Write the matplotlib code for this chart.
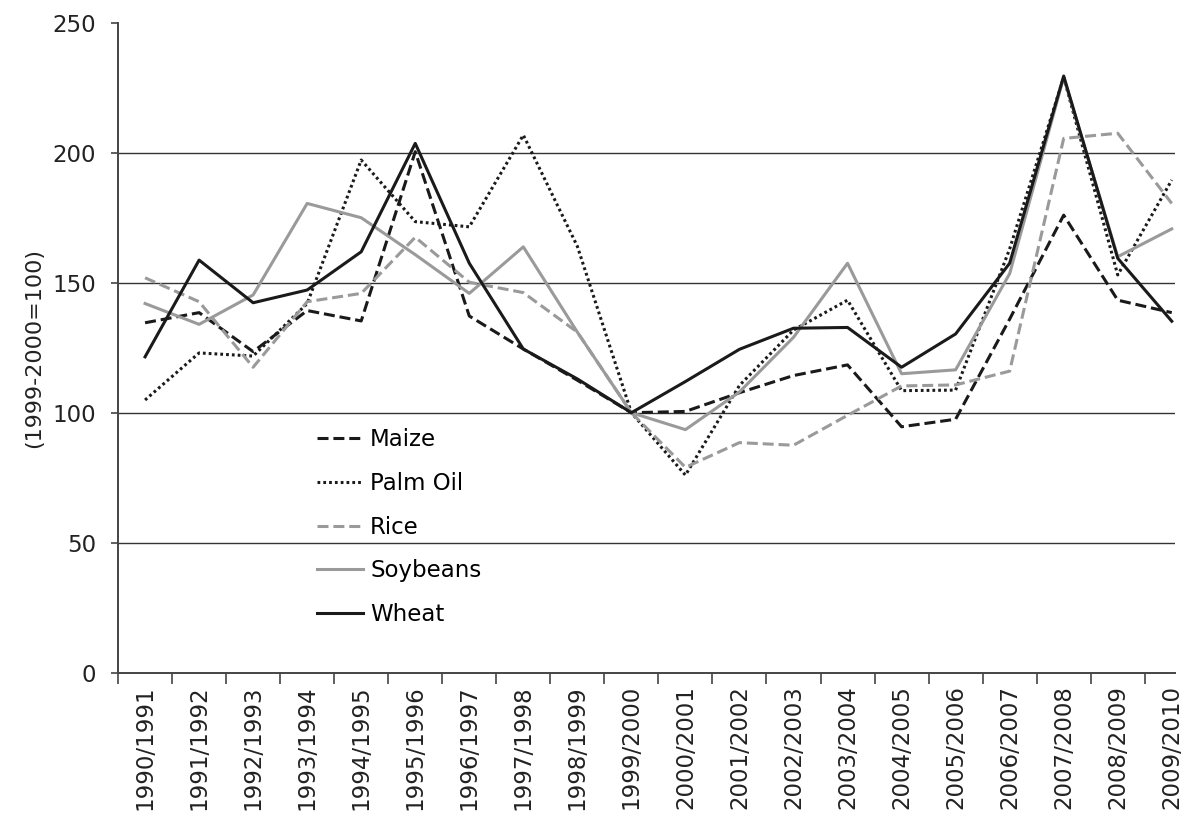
import numpy as np
import matplotlib
matplotlib.use("Agg")
import matplotlib.pyplot as plt

seasons = ["1990/1991", "1991/1992", "1992/1993", "1993/1994", "1994/1995",
           "1995/1996", "1996/1997", "1997/1998", "1998/1999", "1999/2000",
           "2000/2001", "2001/2002", "2002/2003", "2003/2004", "2004/2005",
           "2005/2006", "2006/2007", "2007/2008", "2008/2009", "2009/2010"]

maize = [134.6, 138.5, 123.5, 139.3, 135.3, 200.4, 137.2, 124.5, 112.5, 100,
         100.5, 107.7, 114.3, 118.4, 94.6, 97.5, 136, 176, 143.3, 138.5]
palm_oil = [104.9, 123, 121.8, 142, 197.2, 173.5, 171.5, 206.8, 164, 100,
            76, 110.5, 131.8, 143.3, 108.5, 108.7, 163, 229, 153, 189.5]
rice = [151.9, 142.7, 117.5, 142.7, 145.9, 167.5, 150.2, 146.2, 131, 100,
        79, 88.5, 87.5, 99, 110.3, 110.7, 116, 205.5, 207.5, 180.5]
soybeans = [142, 134, 145.3, 180.5, 175, 160.8, 145.9, 163.8, 131, 100,
            93.5, 108, 129, 157.5, 115, 116.5, 153.5, 229, 160, 170.7]
wheat = [121.5, 158.7, 142.3, 147.2, 161.9, 203.6, 157.5, 124.5, 113, 100,
         112, 124.4, 132.5, 132.8, 117.5, 130.3, 157.5, 229.5, 159.4, 135.2]

plt.rcParams['font.family'] = ['DejaVu Sans']
FS = 16.5
BLACK = "#1a1a1a"
GRAY = "#9a9a9a"

fig = plt.figure(figsize=(11.84, 8.18), dpi=100)
ax = fig.add_axes([0.0997, 0.1776, 0.8927, 0.7946])

x = np.arange(len(seasons))
lw = 2.2
ax.plot(x, maize, color=BLACK, lw=lw, dashes=(3.6, 1.6), label="Maize")
ax.plot(x, palm_oil, color=BLACK, lw=lw, dashes=(0.9, 1.0), label="Palm Oil")
ax.plot(x, rice, color=GRAY, lw=lw, dashes=(3.6, 1.6), label="Rice")
ax.plot(x, soybeans, color=GRAY, lw=lw, label="Soybeans")
ax.plot(x, wheat, color=BLACK, lw=lw, label="Wheat")

ax.set_xlim(-0.5, 19.06)
ax.set_ylim(0, 250)
ax.set_yticks([0, 50, 100, 150, 200, 250])
for v in [50, 100, 150, 200]:
    ax.axhline(v, color="#333333", lw=1.0, zorder=0)

# category labels at centres, ticks at the boundaries
ax.set_xticks(x)
ax.set_xticklabels(seasons, rotation=90, fontsize=FS, color="#222222")
ax.set_xticks(np.arange(-0.5, 19, 1), minor=True)
ax.tick_params(axis="x", which="major", length=0, pad=9)
ax.tick_params(axis="x", which="minor", length=8, width=1.2, color="#444444")
ax.tick_params(axis="y", length=5, width=1.2, color="#444444", pad=11,
               labelsize=FS, labelcolor="#222222")

for s in ["top", "right"]:
    ax.spines[s].set_visible(False)
for s in ["left", "bottom"]:
    ax.spines[s].set_color("#444444")
    ax.spines[s].set_linewidth(1.4)

ax.set_ylabel("(1999-2000=100)", fontsize=FS - 0.5, color="#222222", labelpad=6)

ax.legend(loc="upper left", bbox_to_anchor=(0.18, 0.39), frameon=False,
          fontsize=FS, handlelength=2.0, handletextpad=0.3, labelspacing=0.9,
          borderaxespad=0)

fig.savefig("out.png", dpi=100)
